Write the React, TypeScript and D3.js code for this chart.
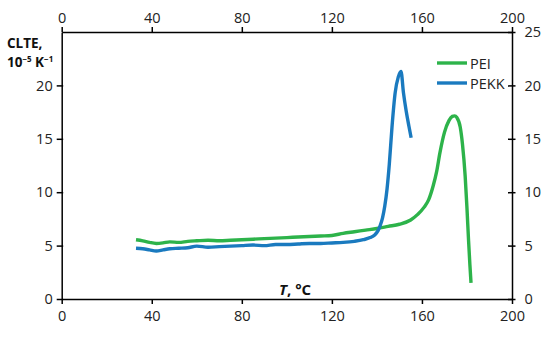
import React, { useEffect, useRef } from "react";
import * as d3 from "d3";

// PEI curve: temperature (°C) and CLTE (10^-5 K^-1)
const peiT = [33, 36, 39, 42, 45, 48, 52, 56, 60, 65, 70, 75, 80, 85, 90, 95, 100, 105, 110, 115, 120, 125, 130, 135, 140, 145, 150, 155, 158, 161, 163, 165, 166.5, 168, 170, 172, 173.5, 174.5, 175.5, 177, 178, 179.2, 180, 180.7, 181.3, 181.8];
const peiV = [5.55, 5.45, 5.3, 5.2, 5.25, 5.35, 5.3, 5.4, 5.45, 5.5, 5.45, 5.5, 5.55, 5.6, 5.65, 5.7, 5.75, 5.8, 5.85, 5.9, 5.95, 6.15, 6.3, 6.45, 6.6, 6.8, 7.0, 7.4, 7.9, 8.6, 9.3, 10.6, 11.9, 13.7, 15.6, 16.7, 17.1, 17.15, 17.0, 16.1, 14.5, 11.5, 8.5, 5.5, 3.2, 1.5];

// PEKK curve
const pekkT = [33, 36, 39, 42, 45, 48, 52, 56, 60, 65, 70, 75, 80, 85, 90, 95, 100, 105, 110, 115, 120, 125, 130, 134, 137, 139, 140.5, 141.5, 142.5, 143.5, 144.5, 145.5, 146.7, 148.1, 149.5, 150.7, 151.8, 153, 154.2, 155.2];
const pekkV = [4.75, 4.7, 4.6, 4.5, 4.6, 4.7, 4.75, 4.8, 4.95, 4.85, 4.9, 4.95, 5.0, 5.05, 5.0, 5.1, 5.1, 5.15, 5.2, 5.2, 5.25, 5.3, 5.4, 5.55, 5.75, 6.0, 6.4, 6.9, 7.6, 8.7, 10.3, 12.6, 16.1, 19.3, 20.8, 21.3, 19.3, 17.6, 16.2, 15.1];

const xTicks = [0, 40, 80, 120, 160, 200];
const yTicks = [0, 5, 10, 15, 20, 25];
const leftTicks = [0, 5, 10, 15, 20];

const seriesNames = ["PEI", "PEKK"];
const seriesColors = ["#2db34a", "#1a7abf"];

const App: React.FC = () => {
  const svgRef = useRef<SVGSVGElement>(null);

  useEffect(() => {
    if (!svgRef.current) return;
    const svg = d3.select(svgRef.current);
    svg.selectAll("*").remove();

    const width = 550;
    const height = 338;
    const left = 61.7;
    const right = 512;
    const top = 32;
    const bottom = 299;

    const x = d3.scaleLinear().domain([0, 200]).range([left, right]);
    const y = d3.scaleLinear().domain([0, 25]).range([bottom, top]);

    svg.attr("width", width).attr("height", height);
    svg.append("rect").attr("width", width).attr("height", height).attr("fill", "#fff");

    const font = "'Open Sans', sans-serif";

    // Lines
    const line = d3
      .line<[number, number]>()
      .x((d) => x(d[0]))
      .y((d) => y(d[1]))
      .curve(d3.curveMonotoneX);

    const series = [
      d3.zip(peiT, peiV) as [number, number][],
      d3.zip(pekkT, pekkV) as [number, number][],
    ];
    series.forEach((s, i) => {
      svg
        .append("path")
        .datum(s)
        .attr("d", line)
        .attr("fill", "none")
        .attr("stroke", seriesColors[i])
        .attr("stroke-width", 3.4)
        .attr("stroke-linejoin", "round");
    });

    const styleAxis = (g: d3.Selection<SVGGElement, unknown, null, undefined>) => {
      g.select(".domain").attr("stroke", "#000").attr("stroke-width", 1.5);
      g.selectAll(".tick line").attr("stroke", "#000").attr("stroke-width", 1.5);
      g.selectAll(".tick text")
        .attr("fill", "#222")
        .style("font-family", font)
        .style("font-size", "14.5px");
    };

    // Bottom axis
    const gb = svg
      .append("g")
      .attr("transform", `translate(0,${bottom})`)
      .call(d3.axisBottom(x).tickValues(xTicks).tickSize(5).tickSizeOuter(0).tickPadding(7));
    styleAxis(gb);

    // Top axis
    const gt = svg
      .append("g")
      .attr("transform", `translate(0,${top})`)
      .call(d3.axisTop(x).tickValues(xTicks).tickSize(5).tickSizeOuter(0).tickPadding(4));
    styleAxis(gt);

    // Left axis
    const gl = svg
      .append("g")
      .attr("transform", `translate(${left},0)`)
      .call(d3.axisLeft(y).tickValues(leftTicks).tickSize(5).tickSizeOuter(0).tickPadding(4));
    styleAxis(gl);
    gl.selectAll(".tick line").attr("x1", 1.5);

    // Right axis
    const gr = svg
      .append("g")
      .attr("transform", `translate(${right},0)`)
      .call(d3.axisRight(y).tickValues(yTicks).tickSize(3.5).tickSizeOuter(0).tickPadding(9));
    styleAxis(gr);
    gr.selectAll(".tick line").attr("x1", -4);

    // Axis titles
    const yTitle = svg
      .append("text")
      .attr("x", 7)
      .attr("y", 48)
      .style("font-family", font)
      .style("font-size", "13.5px")
      .style("font-weight", "bold")
      .attr("fill", "#111");
    yTitle.append("tspan").text("CLTE,");
    const l2 = svg
      .append("text")
      .attr("x", 7)
      .attr("y", 67)
      .style("font-family", font)
      .style("font-size", "13.5px")
      .style("font-weight", "bold")
      .attr("fill", "#111");
    l2.append("tspan").text("10");
    l2.append("tspan").attr("dy", -5).style("font-size", "8px").text("−5");
    l2.append("tspan").attr("dy", 5).text(" K");
    l2.append("tspan").attr("dy", -5).style("font-size", "8px").text("−1");

    const xTitle = svg
      .append("text")
      .attr("x", 279)
      .attr("y", 295)
      .style("font-family", font)
      .style("font-size", "15px")
      .style("font-weight", "bold")
      .attr("fill", "#111");
    xTitle.append("tspan").style("font-style", "italic").text("T");
    xTitle.append("tspan").text(", °C");

    // Legend
    const legend = svg.append("g").attr("transform", "translate(437,63)");
    seriesNames.forEach((name, i) => {
      const g = legend.append("g").attr("transform", `translate(0,${i * 20})`);
      g.append("line")
        .attr("x1", 0)
        .attr("x2", 30)
        .attr("stroke", seriesColors[i])
        .attr("stroke-width", 3.4);
      g.append("text")
        .attr("x", 33)
        .attr("y", 5.5)
        .style("font-family", font)
        .style("font-size", "14.5px")
        .attr("fill", "#222")
        .text(name);
    });
  }, []);

  return <svg ref={svgRef} style={{ position: "absolute", left: 0, top: 0 }}></svg>;
};

export default App;
